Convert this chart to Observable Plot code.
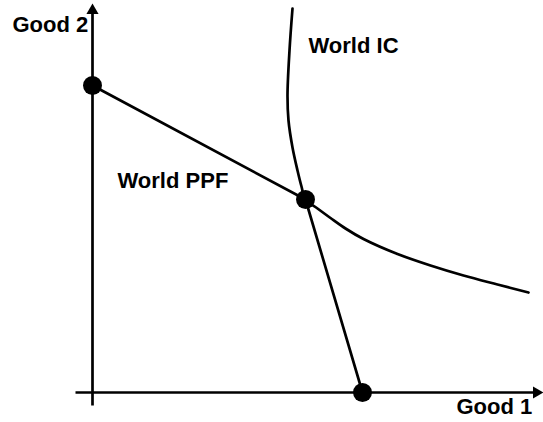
<!DOCTYPE html>
<html>
<head>
<meta charset="utf-8">
<script src="https://cdn.jsdelivr.net/npm/d3@7"></script>
<script src="https://cdn.jsdelivr.net/npm/@observablehq/plot@0.6"></script>
<style>
  body { margin: 0; background: #fff; }
</style>
</head>
<body>
<div id="chart"></div>
<script>
// World PPF corners (Good 1, Good 2)
const ppfGood1 = [0, 213, 270];
const ppfGood2 = [307, 193, 0];
// World indifference curve (Good 1, Good 2)
const icGood1 = [200, 197, 195, 196, 200, 205, 209, 213, 225, 238, 253, 271, 305, 338, 371, 405, 436];
const icGood2 = [384, 342, 297, 272, 245, 222, 206, 193, 184, 174.5, 164, 153.5, 138.5, 127, 117, 108, 100];
// Labels
const labelText = ["Good 2", "World IC", "World PPF", "Good 1"];
const labelGood1 = [-80, 216, 25, 364];
const labelGood2 = [361, 340, 205, -21];
// Axis extents
const xAxisFrom = -17, xAxisTo = 448;
const yAxisFrom = -13, yAxisTo = 385;

const ppf = ppfGood1.map((x, i) => ({x, y: ppfGood2[i]}));
const ic = icGood1.map((x, i) => ({x, y: icGood2[i]}));
const labels = labelText.map((t, i) => ({t, x: labelGood1[i], y: labelGood2[i]}));

const chart = Plot.plot({
  width: 543,
  height: 422,
  margin: 0,
  x: {domain: [-92, 451], axis: null},
  y: {domain: [-30, 392], axis: null},
  style: {background: "#fff"},
  marks: [
    Plot.link([{x1: 0, y1: yAxisFrom, x2: 0, y2: yAxisTo}], {x1: "x1", y1: "y1", x2: "x2", y2: "y2", stroke: "#000", strokeWidth: 2.7}),
    Plot.link([{x1: xAxisFrom, y1: 0, x2: xAxisTo, y2: 0}], {x1: "x1", y1: "y1", x2: "x2", y2: "y2", stroke: "#000", strokeWidth: 2.7}),
    Plot.dot([{x: 0, y: 382}], {x: "x", y: "y", symbol: "triangle", r: 4.5, fill: "#000", stroke: "none"}),
    Plot.dot([{x: 444, y: 0}], {x: "x", y: "y", symbol: "triangle", r: 4.5, rotate: 90, fill: "#000", stroke: "none"}),
    Plot.line(ppf, {x: "x", y: "y", stroke: "#000", strokeWidth: 2.7}),
    Plot.line(ic, {x: "x", y: "y", stroke: "#000", strokeWidth: 2.7, curve: "catmull-rom"}),
    Plot.dot(ppf, {x: "x", y: "y", r: 9.5, fill: "#000", stroke: "none"}),
    Plot.text(labels, {x: "x", y: "y", text: "t", textAnchor: "start", lineAnchor: "bottom", fontSize: 22, fontWeight: "bold", fontFamily: "Liberation Sans, Arial, sans-serif", fill: "#000"})
  ]
});
document.getElementById("chart").appendChild(chart);
</script>
</body>
</html>
